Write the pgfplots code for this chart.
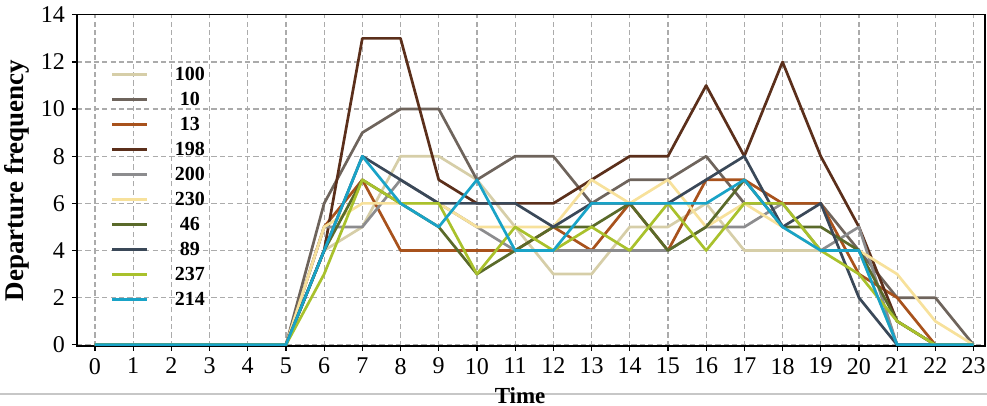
\documentclass[border=0pt]{standalone}
\usepackage{fontspec}
\setmainfont{Liberation Serif}
\usepackage{pgfplots}
\usepackage{pgfplotstable}
\pgfplotsset{compat=1.18}

\definecolor{cA}{HTML}{D6CEA8}
\definecolor{cB}{HTML}{6E645C}
\definecolor{cC}{HTML}{A8521C}
\definecolor{cD}{HTML}{5B2F1B}
\definecolor{cE}{HTML}{8C8C8E}
\definecolor{cF}{HTML}{F7E19B}
\definecolor{cG}{HTML}{5A6A2A}
\definecolor{cH}{HTML}{3A4858}
\definecolor{cI}{HTML}{A9C12C}
\definecolor{cJ}{HTML}{19A3C7}

\pgfplotstableread{
x  a   b   c   d   e   f   g   h   i   j
0  0   0   0   0   0   0   0   0   0   0
1  0   0   0   0   0   0   0   0   0   0
2  0   0   0   0   0   0   0   0   0   0
3  0   0   0   0   0   0   0   0   0   0
4  0   0   0   0   0   0   0   0   0   0
5  0   0   0   0   0   0   0   0   0   0
6  4   6   5   4   5   5   4   4   3   4
7  5   9   7   13  5   6   7   8   7   8
8  8   10  4   13  7   6   6   7   6   6
9  8   10  4   7   6   6   5   6   6   5
10 7   7   4   6   5   5   3   6   3   7
11 5   8   4   6   4   5   4   6   5   4
12 3   8   5   6   4   5   5   5   4   4
13 3   6   4   7   4   7   5   6   5   6
14 5   7   6   8   4   6   6   6   4   6
15 5   7   4   8   4   7   4   6   6   6
16 6   8   7   11  5   5   5   7   4   6
17 4   6   7   8   5   6   7   8   6   7
18 4   6   6   12  6   5   5   5   6   5
19 4   6   6   8   4   4   5   6   4   4
20 4   4   3   5   5   4   4   2   3   4
21 0   2   2   1   0   3   1   0   1   0
22 0   2   0   0   0   1   0   0   0   0
23 0   0   0   0   0   0   0   0   0   0
}\datatable

\begin{document}
\begin{tikzpicture}
\useasboundingbox (-38.5pt,-30pt) rectangle (455pt,173pt);
\draw[color=black!22, line width=0.6pt] (-38.5pt,-24pt) -- (455pt,-24pt);
\begin{axis}[
  scale only axis,
  width=454pt, height=165.6pt,
  xmin=-0.47, xmax=23.3,
  ymin=-0.05, ymax=14,
  xtick={0,1,...,23},
  ytick={0,2,...,14},
  tick pos=left,
  tick align=outside,
  major tick length=2.5pt,
  every tick/.style={black, line width=0.6pt},
  axis line style={black, line width=0.7pt},
  grid=major,
  major grid style={dash pattern=on 2.6pt off 1.6pt, color=black!33, line width=0.6pt},
  ticklabel style={font=\fontsize{12}{14}\selectfont},
  /pgf/number format/assume math mode=true,
  xlabel={\textbf{Time}},
  ylabel={\textbf{Departure frequency}},
  every axis x label/.style={at={(axis description cs:0.488,-0.149)}, anchor=center, font=\fontsize{11.5}{13}\selectfont},
  every axis y label/.style={at={(axis description cs:-0.066,0.5)}, rotate=90, anchor=center, font=\fontsize{13.5}{15}\selectfont},
  legend style={at={(axis description cs:0.037,0.85)}, anchor=north west, draw=none, fill=none,
    inner sep=0pt, row sep=2.5pt, column sep=12pt,
    font=\fontsize{10}{11}\selectfont\bfseries,
    nodes={inner sep=1pt, text height=7pt, text depth=1pt}},
  legend cell align=center,
  legend image code/.code={\draw[#1, line width=1.4pt] (0pt,0pt) -- (17.5pt,0pt);},
  every axis plot/.append style={line width=1.35pt, line join=round, mark=none},
]
\addplot[color=cA] table[x=x, y=a] {\datatable};
\addlegendentry{100}
\addplot[color=cB] table[x=x, y=b] {\datatable};
\addlegendentry{10}
\addplot[color=cC] table[x=x, y=c] {\datatable};
\addlegendentry{13}
\addplot[color=cD] table[x=x, y=d] {\datatable};
\addlegendentry{198}
\addplot[color=cE] table[x=x, y=e] {\datatable};
\addlegendentry{200}
\addplot[color=cF] table[x=x, y=f] {\datatable};
\addlegendentry{230}
\addplot[color=cG] table[x=x, y=g] {\datatable};
\addlegendentry{46}
\addplot[color=cH] table[x=x, y=h] {\datatable};
\addlegendentry{89}
\addplot[color=cI] table[x=x, y=i] {\datatable};
\addlegendentry{237}
\addplot[color=cJ] table[x=x, y=j] {\datatable};
\addlegendentry{214}
\end{axis}
\end{tikzpicture}
\end{document}
